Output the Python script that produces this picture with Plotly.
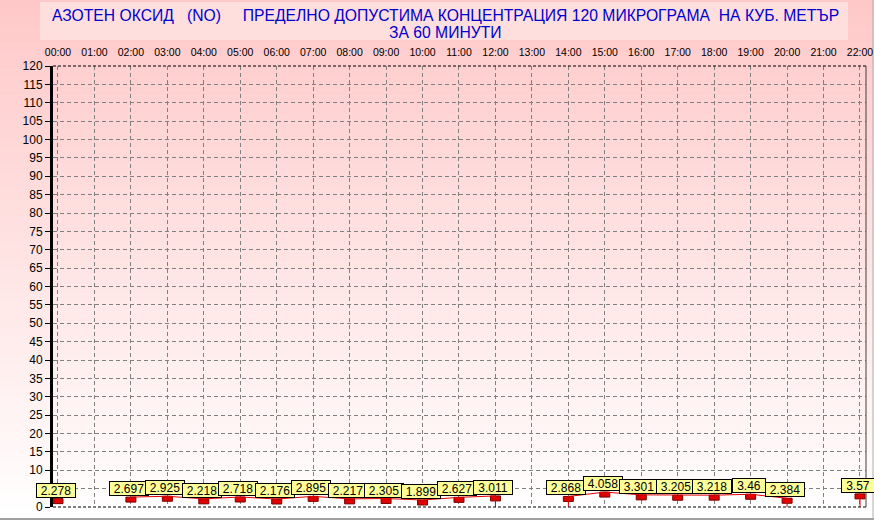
import plotly.graph_objects as go

# ---------------- data ----------------
hours = ["00:00", "01:00", "02:00", "03:00", "04:00", "05:00", "06:00", "07:00",
         "08:00", "09:00", "10:00", "11:00", "12:00", "13:00", "14:00", "15:00",
         "16:00", "17:00", "18:00", "19:00", "20:00", "21:00", "22:00"]
values = [2.278, None, 2.697, 2.925, 2.218, 2.718, 2.176, 2.895,
          2.217, 2.305, 1.899, 2.627, 3.011, None, 2.868, 4.058,
          3.301, 3.205, 3.218, 3.46, 2.384, None, 3.57]
stem_hours = ["12:00", "14:00", "20:00", "22:00"]
y_ticks = list(range(0, 121, 5))
title_line1 = "АЗОТЕН ОКСИД   (NO)     ПРЕДЕЛНО ДОПУСТИМА КОНЦЕНТРАЦИЯ 120 МИКРОГРАМА  НА КУБ. МЕТЪР"
title_line2 = "ЗА 60 МИНУТИ"

# ---------------- layout geometry ----------------
W, H = 874, 529
ML, MR, MT, MB = 53, 8, 66, 22
PW, PH = W - ML - MR, H - MT - MB
FONT = "Arial, Liberation Sans, sans-serif"
X_RANGE = [-0.137, 22.165]
Y_RANGE = [0, 120]
MARK_W_PX, MARK_H_PX = 10, 5
mark_w = MARK_W_PX * (X_RANGE[1] - X_RANGE[0]) / PW
mark_h = MARK_H_PX * (Y_RANGE[1] - Y_RANGE[0]) / PH


def px_x(px):
    return (px - ML) / PW


def px_y(py):
    return (H - MB - py) / PH


fig = go.Figure()

# connecting line
fig.add_trace(go.Scatter(x=hours, y=values, mode="lines", connectgaps=False,
                         line=dict(color="#E00000", width=1), hoverinfo="skip"))
# stems
sx, sy = [], []
for h in stem_hours:
    i = hours.index(h)
    sx += [h, h, None]
    sy += [values[i], 0, None]
fig.add_trace(go.Scatter(x=sx, y=sy, mode="lines",
                         line=dict(color="#E00000", width=1), hoverinfo="skip"))
# markers: small red boxes hanging from the value
fig.add_trace(go.Bar(x=hours, base=values,
                     y=[(-mark_h if v is not None else None) for v in values],
                     width=mark_w,
                     marker=dict(color="#E00000", line=dict(color="#7A0000", width=1))))

# value labels
for h, v in zip(hours, values):
    if v is None:
        continue
    txt = f"{v:g}"
    fig.add_annotation(x=h, y=v, text=txt, showarrow=False,
                       yanchor="bottom", yshift=1, xshift=-2,
                       width=round(len(txt) * 6.2 + 5), height=11,
                       bgcolor="#FFFF99", bordercolor="black", borderwidth=1,
                       borderpad=1, font=dict(family=FONT, size=12, color="black"))

# title
fig.add_annotation(xref="paper", yref="paper", x=px_x(445), y=px_y(15),
                   text=title_line1, showarrow=False, xanchor="center", yanchor="middle",
                   font=dict(family=FONT, size=15.7, color="#0000CC"))
fig.add_annotation(xref="paper", yref="paper", x=px_x(445), y=px_y(32.5),
                   text=title_line2, showarrow=False, xanchor="center", yanchor="middle",
                   font=dict(family=FONT, size=15.7, color="#0000CC"))

shapes = []
# gradient background
N = 60
top_c, bot_c = (255, 200, 200), (255, 255, 255)
y0p, y1p = 0, 519
for k in range(N):
    a = y0p + (y1p - y0p) * k / N
    b = y0p + (y1p - y0p) * (k + 1) / N
    t = (k + 0.5) / N
    c = tuple(int(round(top_c[j] + (bot_c[j] - top_c[j]) * t)) for j in range(3))
    shapes.append(dict(type="rect", xref="paper", yref="paper", layer="below",
                       x0=px_x(0), x1=px_x(W), y0=px_y(b + 0.5), y1=px_y(a),
                       fillcolor="rgb(%d,%d,%d)" % c, line=dict(width=0)))
# title box
shapes.append(dict(type="rect", xref="paper", yref="paper", layer="below",
                   x0=px_x(40), x1=px_x(848), y0=px_y(40), y1=px_y(2),
                   fillcolor="#FFDEDE", line=dict(width=0)))
# bottom frame
shapes.append(dict(type="line", xref="paper", yref="paper", layer="below",
                   x0=px_x(0), x1=px_x(W), y0=px_y(519), y1=px_y(519),
                   line=dict(color="#A0A0A0", width=2)))
shapes.append(dict(type="line", xref="paper", yref="paper", layer="below",
                   x0=px_x(873), x1=px_x(873), y0=px_y(519), y1=px_y(0),
                   line=dict(color="#B0B0B0", width=1)))
# plot frame: top / bottom dashed black, right solid
for yy in (0, 1):
    shapes.append(dict(type="line", xref="paper", yref="paper", layer="above",
                       x0=0, x1=1, y0=yy, y1=yy,
                       line=dict(color="black", width=1, dash="3px,2px")))
shapes.append(dict(type="line", xref="paper", yref="paper", layer="above",
                   x0=1, x1=1, y0=0, y1=1, line=dict(color="#404040", width=1)))

fig.update_layout(
    width=W, height=H, autosize=False,
    margin=dict(l=ML, r=MR, t=MT, b=MB, pad=0, autoexpand=False),
    paper_bgcolor="white", plot_bgcolor="rgba(0,0,0,0)",
    showlegend=False, shapes=shapes,
    font=dict(family=FONT, size=12, color="black"),
    xaxis=dict(type="category", categoryarray=hours, categoryorder="array",
               range=X_RANGE, side="top", showgrid=True, automargin=False,
               gridcolor="#808080", griddash="4px,3px", gridwidth=1,
               ticks="", ticklabelstandoff=7, showline=False, zeroline=False,
               tickfont=dict(family=FONT, size=10.5, color="black"), fixedrange=True),
    yaxis=dict(range=Y_RANGE, tickvals=y_ticks, showgrid=True, automargin=False,
               gridcolor="#808080", griddash="4px,3px", gridwidth=1,
               ticks="outside", ticklen=5, tickcolor="black", tickwidth=1,
               showline=True, linecolor="black", linewidth=3, zeroline=False,
               tickfont=dict(family=FONT, size=12, color="black"), fixedrange=True),
)

fig.write_html("out.html", config={"displayModeBar": False},
               post_script="document.body.style.margin='0';document.body.style.overflow='hidden';")
